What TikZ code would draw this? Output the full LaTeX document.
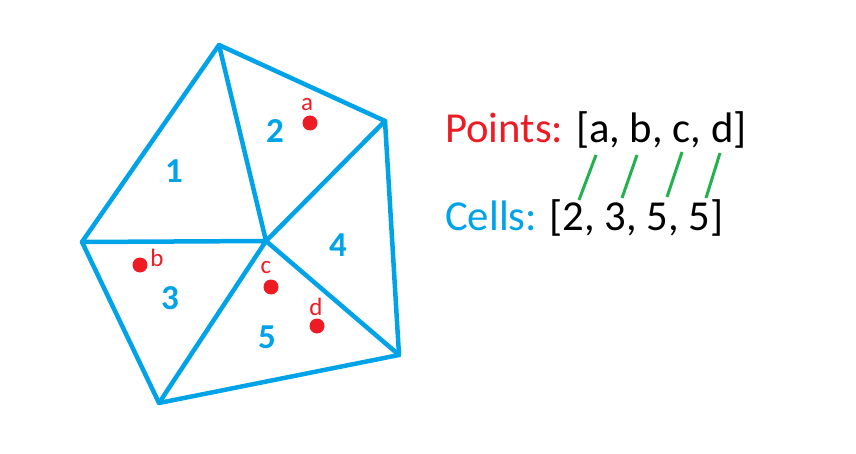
\documentclass[tikz,border=0pt]{standalone}
\usepackage{fontspec}
\setmainfont{Carlito}
\definecolor{pblue}{HTML}{00A2E8}
\definecolor{pred}{HTML}{ED1C24}
\definecolor{pgreen}{HTML}{22B14C}
\begin{document}
\begin{tikzpicture}[x=1pt,y=-1pt,
  edge/.style={draw=pblue,line width=4.5pt,line join=round,line cap=round},
  cellno/.style={text=pblue,font=\fontsize{35}{40}\selectfont\bfseries,inner sep=0pt},
  ptdot/.style={circle,fill=pred,inner sep=0pt,minimum size=15pt},
  ptlab/.style={text=pred,font=\fontsize{25}{28}\selectfont,inner sep=0pt},
  bigtxt/.style={font=\fontsize{42.7}{50}\selectfont,inner sep=0pt,anchor=base west},
  link/.style={draw=pgreen,line width=3pt}]
\useasboundingbox (0,0) rectangle (856,454);
\coordinate (T) at (219,45);
\coordinate (R1) at (385,121);
\coordinate (R2) at (399,355);
\coordinate (B) at (159,403);
\coordinate (L) at (82,242);
\coordinate (C) at (266,241);
\draw[edge] (T) -- (R1) -- (R2) -- (B) -- (L) -- cycle;
\draw[edge] (C) -- (T) (C) -- (R1) (C) -- (R2) (C) -- (B) (C) -- (L);
\node[cellno] (n1) at (174,171) {1};
\node[cellno] (n2) at (275,131) {2};
\node[cellno] (n3) at (170,298) {3};
\node[cellno] (n4) at (338,245) {4};
\node[cellno] (n5) at (267,337) {5};
\node[ptdot] (pa) at (310,123) {};
\node[ptdot] (pb) at (140,265) {};
\node[ptdot] (pc) at (271,287) {};
\node[ptdot] (pd) at (317,326) {};
\node[ptlab] (la) at (307,105) {a};
\node[ptlab] (lb) at (157,258) {b};
\node[ptlab] (lc) at (266,268) {c};
\node[ptlab] (ld) at (316,307) {d};
\node[bigtxt] (pts) at (445,143) {\textcolor{pred}{Points:} [a, b, c, d]};
\node[bigtxt] (cls) at (445,231) {\textcolor{pblue}{Cells:} [2, 3, 5, 5]};
\coordinate (g1a) at (596,155); \coordinate (g1b) at (579,200);
\coordinate (g2a) at (637,155); \coordinate (g2b) at (622,198);
\coordinate (g3a) at (682,152); \coordinate (g3b) at (667,197);
\coordinate (g4a) at (720,153); \coordinate (g4b) at (706,198);
\draw[link] (g1a) -- (g1b);
\draw[link] (g2a) -- (g2b);
\draw[link] (g3a) -- (g3b);
\draw[link] (g4a) -- (g4b);
\end{tikzpicture}
\end{document}
